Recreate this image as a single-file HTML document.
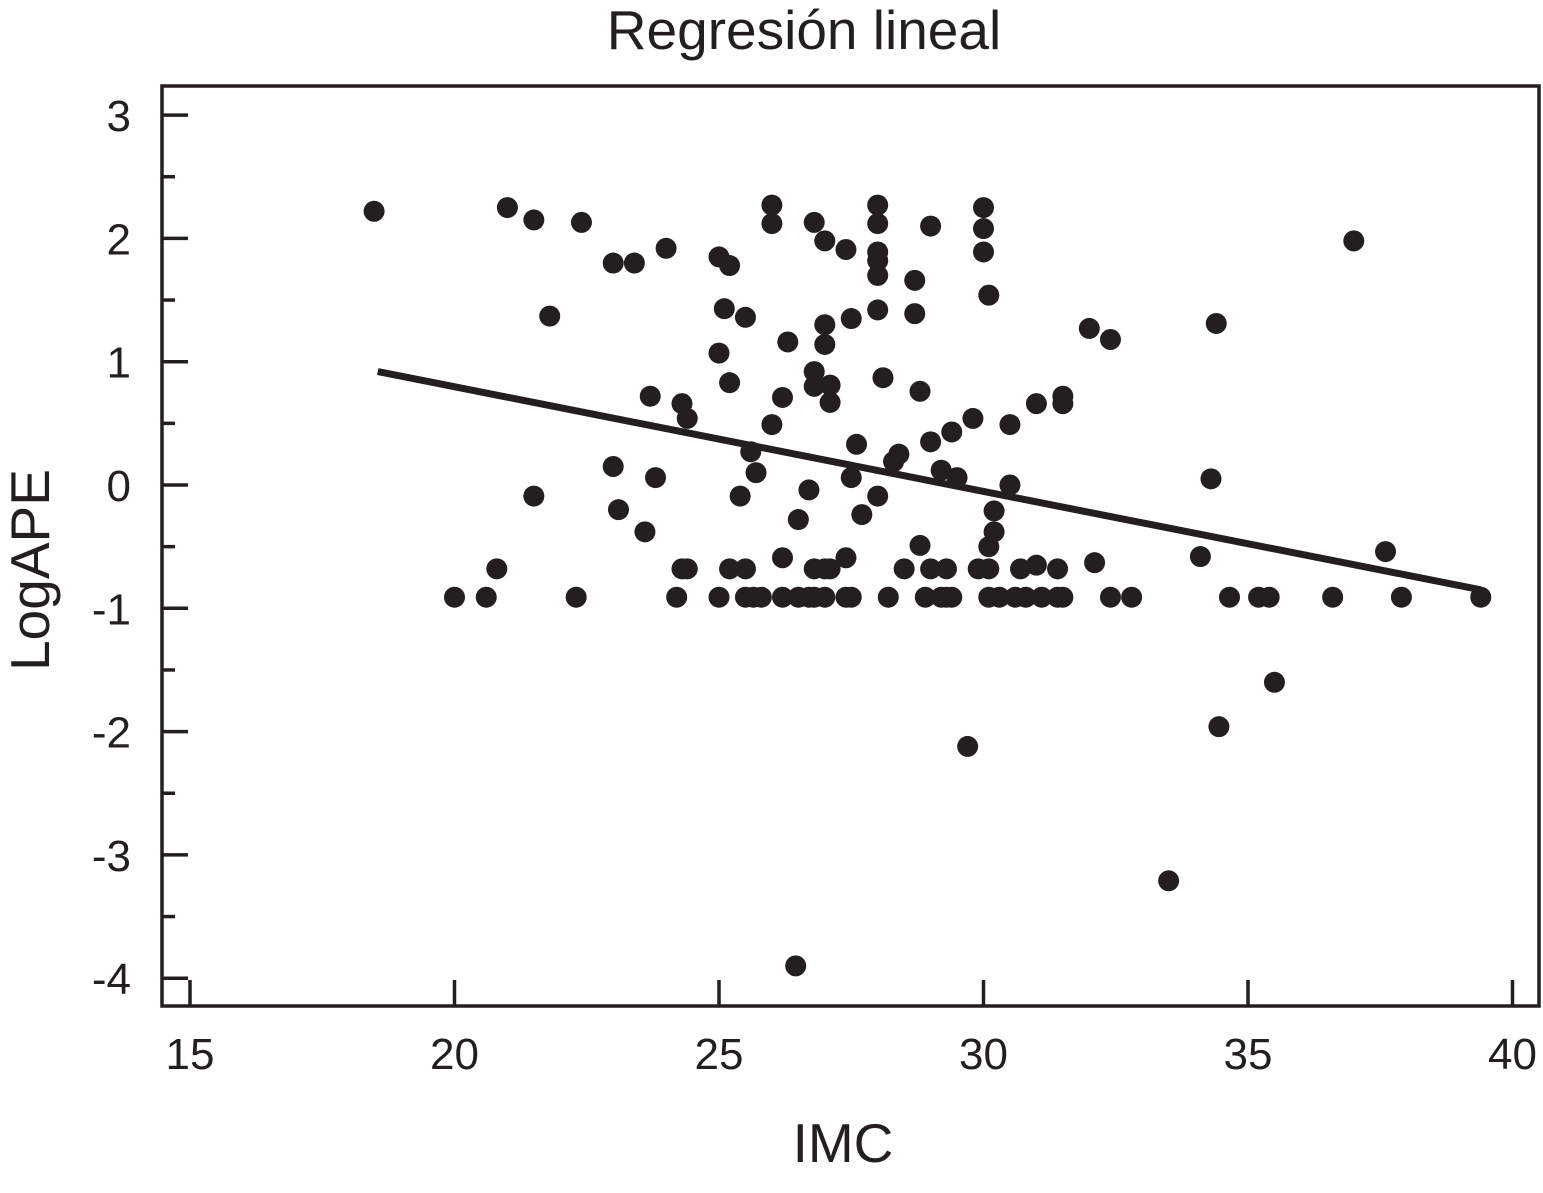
<!DOCTYPE html>
<html><head><meta charset="utf-8"><style>
html,body{margin:0;padding:0;background:#fff;}
svg text{font-family:"Liberation Sans",Arial,sans-serif;fill:#231f20;}
</style></head><body>
<svg id="chart" width="1543" height="1188" viewBox="0 0 1543 1188" xmlns="http://www.w3.org/2000/svg">
<text x="804" y="49" font-size="55" text-anchor="middle">Regresión lineal</text>
<rect x="162" y="86" width="1377" height="920" fill="none" stroke="#231f20" stroke-width="3.5"/>
<g id="axes"></g>
<g id="marks"></g>
<text x="843" y="1162" font-size="55" text-anchor="middle">IMC</text>
<text x="0" y="0" font-size="55" text-anchor="middle" transform="translate(49,570) rotate(-90)">LogAPE</text>
</svg>
<script>
const xTicks=[15,20,25,30,35,40];
const yTicks=[3,2,1,0,-1,-2,-3,-4];
const imc=[18.48,21.0,21.5,22.4,23.0,23.4,24.0,21.8,23.7,24.3,24.4,23.0,23.8,21.5,23.1,23.6,20.8,20.0,20.6,22.3,24.2,24.3,24.4,
25.0,25.2,25.1,25.5,25.0,25.2,25.6,25.7,25.4,25.2,25.5,25.0,25.5,25.65,25.8,
26.0,26.0,26.3,26.2,26.0,26.2,26.5,26.7,26.2,26.5,26.7,26.8,27.0,26.45,
26.8,27.0,27.0,27.0,26.8,26.8,27.1,27.1,27.4,27.5,27.6,27.5,27.7,27.4,26.8,27.0,27.1,27.4,27.5,
28.0,28.0,28.0,28.0,28.0,28.0,28.1,28.3,28.4,28.0,28.2,28.5,28.7,28.7,28.8,28.8,29.0,29.0,29.2,29.4,29.5,29.0,29.3,28.9,29.2,29.3,29.4,29.7,29.8,
30.0,30.0,30.0,30.1,30.5,30.5,30.2,30.2,30.1,29.9,30.1,30.1,30.3,30.7,31.0,31.4,31.0,31.5,31.5,30.6,30.8,31.1,31.4,31.5,
32.0,32.4,32.1,32.4,32.8,33.5,34.1,34.3,34.4,34.45,34.65,35.2,35.4,35.5,36.6,37.0,37.6,37.9,39.4];
const logape=[2.22,2.25,2.15,2.13,1.8,1.8,1.92,1.37,0.72,0.66,0.54,0.15,0.06,-0.09,-0.2,-0.38,-0.68,-0.91,-0.91,-0.91,-0.91,-0.68,-0.68,
1.85,1.78,1.43,1.36,1.07,0.83,0.27,0.1,-0.09,-0.68,-0.68,-0.91,-0.91,-0.91,-0.91,
2.27,2.12,1.16,0.71,0.49,-0.59,-0.28,-0.04,-0.91,-0.91,-0.91,-0.91,-0.91,-3.9,
2.13,1.98,1.30,1.14,0.92,0.8,0.81,0.67,1.91,1.35,0.33,0.06,-0.24,-0.59,-0.68,-0.68,-0.68,-0.91,-0.91,
2.27,2.12,1.89,1.82,1.70,1.42,0.87,0.19,0.25,-0.09,-0.91,-0.68,1.66,1.39,0.76,-0.49,2.1,0.35,0.12,0.43,0.06,-0.68,-0.68,-0.91,-0.91,-0.91,-0.91,-2.12,0.54,
2.25,2.08,1.89,1.54,0.49,0.0,-0.21,-0.38,-0.5,-0.68,-0.68,-0.91,-0.91,-0.68,-0.65,-0.68,0.66,0.72,0.66,-0.91,-0.91,-0.91,-0.91,-0.91,
1.27,1.18,-0.63,-0.91,-0.91,-3.21,-0.58,0.05,1.31,-1.96,-0.91,-0.91,-0.91,-1.6,-0.91,1.98,-0.54,-0.91,-0.91];
const fitSlope=-0.0849, fitIntercept=2.495;
const fitRange=[18.55,39.4];

const NS="http://www.w3.org/2000/svg";
const sx=v=>190+(v-15)*52.9;
const sy=v=>485-v*123.3;
const axes=document.getElementById('axes'), marks=document.getElementById('marks');
function mk(tag,attrs,parent){const e=document.createElementNS(NS,tag);for(const k in attrs)e.setAttribute(k,attrs[k]);parent.appendChild(e);return e;}
xTicks.forEach((t,i)=>{
  const x=sx(t);
  const l=mk('line',{x1:x,y1:1006,x2:x,y2:980,stroke:'#231f20','stroke-width':3.5},axes);
  
  
  const tx=mk('text',{x:x,y:1069,'font-size':44,'text-anchor':'middle'},axes);
  tx.textContent=t;
  
  
});
yTicks.forEach((t,i)=>{
  const y=sy(t);
  const l=mk('line',{x1:162,y1:y,x2:188,y2:y,stroke:'#231f20','stroke-width':3.5},axes);
  
  
  const tx=mk('text',{x:131,y:y+16,'font-size':44,'text-anchor':'end'},axes);
  tx.textContent=t;
  
  
  if(i<yTicks.length-1){
    const m=sy(t-0.5);
    const ml=mk('line',{x1:162,y1:m,x2:175,y2:m,stroke:'#231f20','stroke-width':3.5},axes);
    
    
  }
});
const fl=mk('line',{x1:sx(fitRange[0]),y1:sy(fitIntercept+fitSlope*fitRange[0]),x2:sx(fitRange[1]),y2:sy(fitIntercept+fitSlope*fitRange[1]),stroke:'#231f20','stroke-width':7},marks);


imc.forEach((v,i)=>{
  const c=mk('circle',{cx:sx(v),cy:sy(logape[i]),r:10.5,fill:'#231f20'},marks);
  
  
});
</script>
</body></html>
